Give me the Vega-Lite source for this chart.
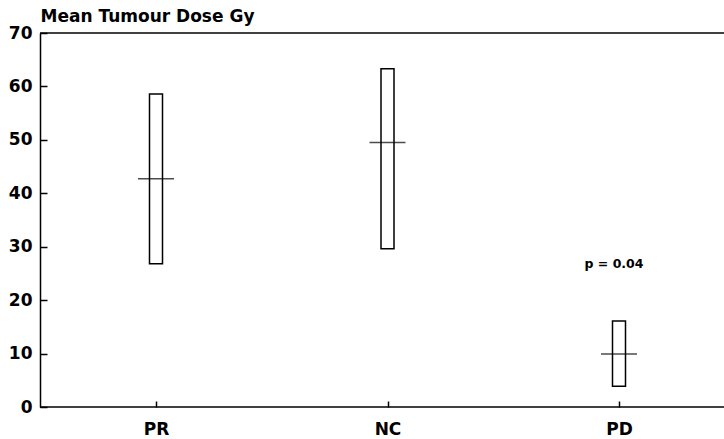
{
  "$schema": "https://vega.github.io/schema/vega-lite/v6.json",
  "width": 684,
  "height": 374,
  "autosize": {"type": "none"},
  "padding": {"left": 40, "top": 33, "right": 0, "bottom": 32},
  "background": "white",
  "config": {
    "view": {"stroke": null},
    "font": "DejaVu Sans"
  },
  "datasets": {
    "groups": [
      {"response": "PR", "low": 26.8, "high": 58.6, "mean": 42.7},
      {"response": "NC", "low": 29.6, "high": 63.3, "mean": 49.5},
      {"response": "PD", "low": 3.9, "high": 16.1, "mean": 9.9}
    ],
    "notes": [
      {"response": "PD", "y": 26.8, "label": "p = 0.04"}
    ]
  },
  "layer": [
    {
      "data": {"name": "groups"},
      "mark": {"type": "bar", "fill": "white", "stroke": "black", "strokeWidth": 1.5, "width": 13},
      "encoding": {
        "x": {
          "field": "response",
          "type": "nominal",
          "sort": ["PR", "NC", "PD"],
          "scale": {"type": "point", "padding": 0, "range": [116, 579]},
          "axis": {
            "title": null,
            "zindex": 1,
            "labelAngle": 0,
            "labelFont": "DejaVu Sans",
            "labelFontWeight": "bold",
            "labelFontSize": 17,
            "labelColor": "black",
            "domain": false,
            "ticks": true,
            "tickColor": "black",
            "tickWidth": 1.5,
            "tickSize": -6,
            "labelPadding": 20
          }
        },
        "y": {
          "field": "high",
          "type": "quantitative",
          "scale": {"domain": [0, 70], "nice": false, "zero": true},
          "axis": {
            "title": "Mean Tumour Dose Gy",
            "zindex": 1,
            "titleAngle": 0,
            "titleAlign": "left",
            "titleBaseline": "alphabetic",
            "titleX": 0,
            "titleY": -12,
            "titleFont": "DejaVu Sans",
            "titleFontWeight": "bold",
            "titleFontSize": 17,
            "titleColor": "black",
            "values": [0, 10, 20, 30, 40, 50, 60, 70],
            "grid": false,
            "labelFont": "DejaVu Sans",
            "labelFontWeight": "bold",
            "labelFontSize": 17,
            "labelColor": "black",
            "domainColor": "black",
            "domainWidth": 1.5,
            "tickColor": "black",
            "tickWidth": 1.5,
            "tickSize": -7,
            "labelPadding": 15
          }
        },
        "y2": {"field": "low"}
      }
    },
    {
      "data": {"name": "groups"},
      "mark": {"type": "tick", "color": "black", "size": 36, "thickness": 1.5, "orient": "horizontal"},
      "encoding": {
        "x": {"field": "response", "type": "nominal", "sort": ["PR", "NC", "PD"]},
        "y": {"field": "mean", "type": "quantitative"}
      }
    },
    {
      "data": {"name": "notes"},
      "mark": {"type": "text", "font": "DejaVu Sans", "fontWeight": "bold", "fontSize": 12.5, "color": "black", "dx": -5, "baseline": "middle"},
      "encoding": {
        "x": {"field": "response", "type": "nominal", "sort": ["PR", "NC", "PD"]},
        "y": {"field": "y", "type": "quantitative"},
        "text": {"field": "label"}
      }
    },
    {
      "data": {"values": [{"edge": 70}, {"edge": 0}]},
      "mark": {"type": "rule", "color": "black", "strokeWidth": 1.5},
      "encoding": {
        "y": {"field": "edge", "type": "quantitative"}
      }
    }
  ]
}
